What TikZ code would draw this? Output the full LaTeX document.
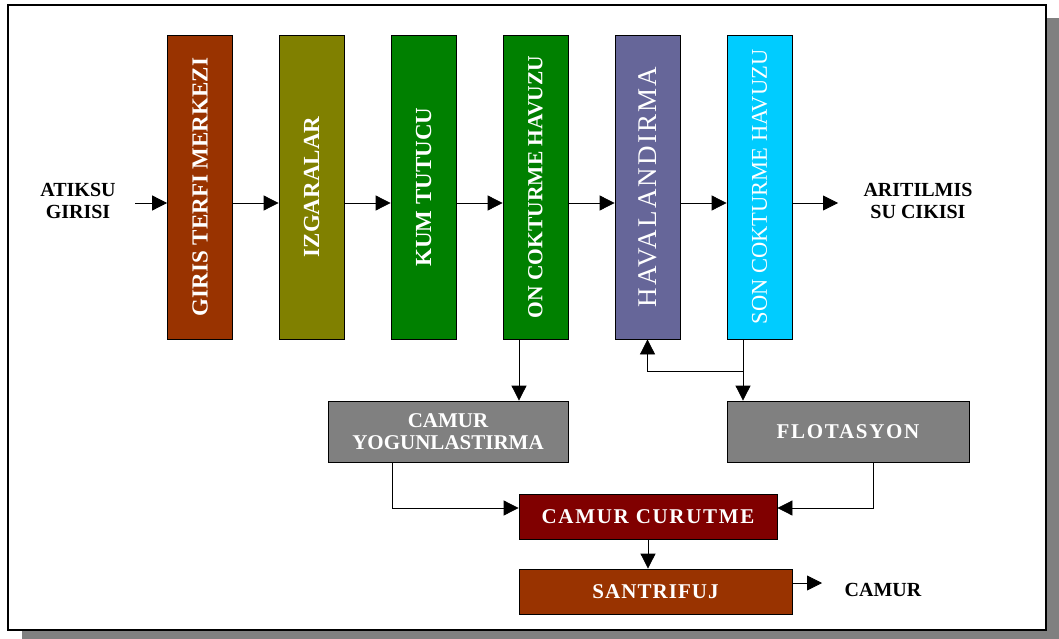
\documentclass[tikz,border=0pt]{standalone}
\usepackage{fontspec}
\setmainfont{Liberation Serif}
\usepackage{graphicx}
\usetikzlibrary{arrows.meta}

\definecolor{pas}{HTML}{993300}
\definecolor{zeytin}{HTML}{808000}
\definecolor{yesil}{HTML}{008000}
\definecolor{mor}{HTML}{666699}
\definecolor{mavi}{HTML}{00CCFF}
\definecolor{gri}{HTML}{808080}
\definecolor{bordo}{HTML}{800000}

\newcommand\vbfont{\bfseries\fontsize{23}{24}\selectfont}
\newcommand\vcfont{\bfseries\fontsize{21.5}{24}\selectfont}
\newcommand\vrfont{\fontsize{22.5}{24}\selectfont}
\newcommand\vhfont{\fontsize{27}{28}\selectfont\addfontfeatures{LetterSpace=8}}

\tikzset{
  vbox/.style={draw=black, line width=0.8pt, minimum width=65pt, minimum height=304pt, inner sep=0pt, text=white},
  hbox/.style={draw=black, line width=0.8pt, inner sep=0pt, text=white, align=center,
    font=\bfseries\fontsize{21}{22}\selectfont},
  lbl/.style={font=\bfseries\fontsize{20}{22}\selectfont, align=center},
  arr/.style={-{Triangle[length=15pt,width=15pt]}, line width=0.8pt},
}

\begin{document}
\begin{tikzpicture}[x=1pt,y=-1pt]
\useasboundingbox (0,0) rectangle (1059,639);
\fill[gri] (22,18) rectangle (1059,639);
\draw[line width=1.5pt, fill=white] (8,5) rectangle (1046,630);

\coordinate (row) at (0,203);
\coordinate (alt) at (0,508);
\coordinate (don) at (0,371);

\foreach \n/\x/\c/\f/\t in {giris/200/pas/\vbfont/{GIRIS TERFI MERKEZI},
    izgara/311.5/zeytin/\vbfont/{IZGARALAR},
    kum/423.5/yesil/\vbfont/{KUM TUTUCU},
    oncok/535.5/yesil/\vcfont/{ON COKTURME HAVUZU},
    hava/647.5/mor/\vhfont/{HAVALANDIRMA},
    soncok/759.5/mavi/\vrfont/{SON COKTURME HAVUZU}}{%
  \node[vbox, fill=\c] (\n) at (\x,187) {\f\rotatebox{90}{\t}};
}

\node[hbox, fill=gri, minimum width=240pt, minimum height=61pt] (camyog) at (448,431.5) {CAMUR\\YOGUNLASTIRMA};
\node[hbox, fill=gri, minimum width=242pt, minimum height=61pt,
  font=\bfseries\fontsize{21}{22}\selectfont\addfontfeatures{LetterSpace=8}] (flot) at (848,431.5) {FLOTASYON};
\node[hbox, fill=bordo, minimum width=258pt, minimum height=45pt,
  font=\bfseries\fontsize{21}{22}\selectfont\addfontfeatures{LetterSpace=8}] (curut) at (648,516.5) {CAMUR CURUTME};
\node[hbox, fill=pas, minimum width=273pt, minimum height=45pt,
  font=\bfseries\fontsize{21}{22}\selectfont\addfontfeatures{LetterSpace=5}] (santri) at (655.5,591.5) {SANTRIFUJ};

\node[lbl] (atiksu) at (78,201) {ATIKSU\\GIRISI};
\node[lbl] (aritil) at (918,201) {ARITILMIS\\SU CIKISI};
\node[lbl] (camur) at (883,590) {CAMUR};
\coordinate (girisuc) at (135,203);
\coordinate (cikisuc) at (838,203);
\coordinate (camuruc) at (822,583);

\draw[arr] (girisuc) -- (giris.west |- row);
\foreach \a/\b in {giris/izgara, izgara/kum, kum/oncok, oncok/hava, hava/soncok}{%
  \draw[arr] (\a.east |- row) -- (\b.west |- row);
}
\draw[arr] (soncok.east |- row) -- (cikisuc);
\draw[arr] ([xshift=-16.5pt]oncok.south) -- ([xshift=-16.5pt]oncok.south |- camyog.north);
\draw[arr] ([xshift=-16.5pt]soncok.south) -- ([xshift=-16.5pt]soncok.south |- flot.north);
\draw[arr] ([xshift=-16.5pt]soncok.south |- don) -| (hava.south);
\draw[arr] ([xshift=25pt]flot.south) |- (curut.east |- alt);
\draw[arr] ([xshift=-56pt]camyog.south) |- (curut.west |- alt);
\draw[arr] (curut.south) -- (curut.south |- santri.north);
\draw[arr] ([yshift=8.5pt]santri.east) -- (camuruc);
\end{tikzpicture}
\end{document}
